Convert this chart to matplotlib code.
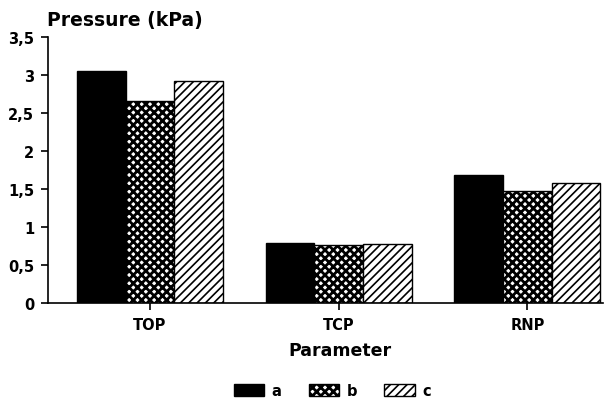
import matplotlib
matplotlib.use("Agg")
import matplotlib.pyplot as plt
import numpy as np
from matplotlib.patches import Patch

categories = ["TOP", "TCP", "RNP"]
series_names = ["a", "b", "c"]
values_a = [3.05, 0.79, 1.68]
values_b = [2.66, 0.77, 1.47]
values_c = [2.92, 0.78, 1.58]
yticks = [0, 0.5, 1, 1.5, 2, 2.5, 3, 3.5]
ytick_labels = ["0", "0,5", "1", "1,5", "2", "2,5", "3", "3,5"]

plt.rcParams['font.family'] = ['DejaVu Sans']
plt.rcParams['font.weight'] = 'bold'

fig = plt.figure(figsize=(6.04, 4.10), dpi=100)
ax = fig.add_axes([0.0795, 0.2585, 0.9185, 0.6485])

x = np.arange(len(categories))
w = 0.258
styles = [dict(facecolor='black', edgecolor='black'),
          dict(facecolor='white', edgecolor='black', hatch='xxxx'),
          dict(facecolor='white', edgecolor='black', hatch='////')]
hatch_lw = [1.0, 2.0, 1.2]


def apply_hlw(p, lw):
    if hasattr(p, 'set_hatch_linewidth'):
        p.set_hatch_linewidth(lw)


handles = []
for i, (vals, st, name) in enumerate(zip([values_a, values_b, values_c], styles, series_names)):
    with plt.rc_context({'hatch.linewidth': hatch_lw[i]}):
        bars = ax.bar(x + (i - 1) * w, vals, w, linewidth=1.0, **st)
        for b in bars:
            apply_hlw(b, hatch_lw[i])
        h = Patch(linewidth=1.0, label=name, **st)
        apply_hlw(h, hatch_lw[i])
        handles.append(h)

ax.set_xlim(-0.54, 2.40)
ax.set_ylim(0, 3.5)
ax.set_yticks(yticks)
ax.set_yticklabels(ytick_labels, fontsize=10.5, fontweight='bold')
ax.set_xticks(x)
ax.set_xticklabels(categories, fontsize=10.5, fontweight='bold')
ax.spines['top'].set_visible(False)
ax.spines['right'].set_visible(False)
ax.spines['left'].set_linewidth(1.2)
ax.spines['bottom'].set_linewidth(1.2)
ax.tick_params(axis='y', direction='out', length=5, width=1.2, pad=5)
ax.tick_params(axis='x', direction='out', length=5, width=1.2, pad=5)

fig.text(0.077, 0.951, "Pressure (kPa)", fontsize=13.5, fontweight='bold', ha='left', va='center')
fig.text(0.563, 0.145, "Parameter", fontsize=12.5, fontweight='bold', ha='center', va='center')

with plt.rc_context({'hatch.linewidth': 2.0}):
    leg = fig.legend(handles=handles, loc='center', bbox_to_anchor=(0.55, 0.044), ncol=3,
                     frameon=False, fontsize=10.5, handlelength=2.1, handleheight=0.9,
                     columnspacing=1.85, handletextpad=0.5)
for t in leg.get_texts():
    t.set_fontweight('bold')
for p, lw in zip(leg.get_patches(), hatch_lw):
    apply_hlw(p, lw)

fig.savefig("out.png", dpi=100)
